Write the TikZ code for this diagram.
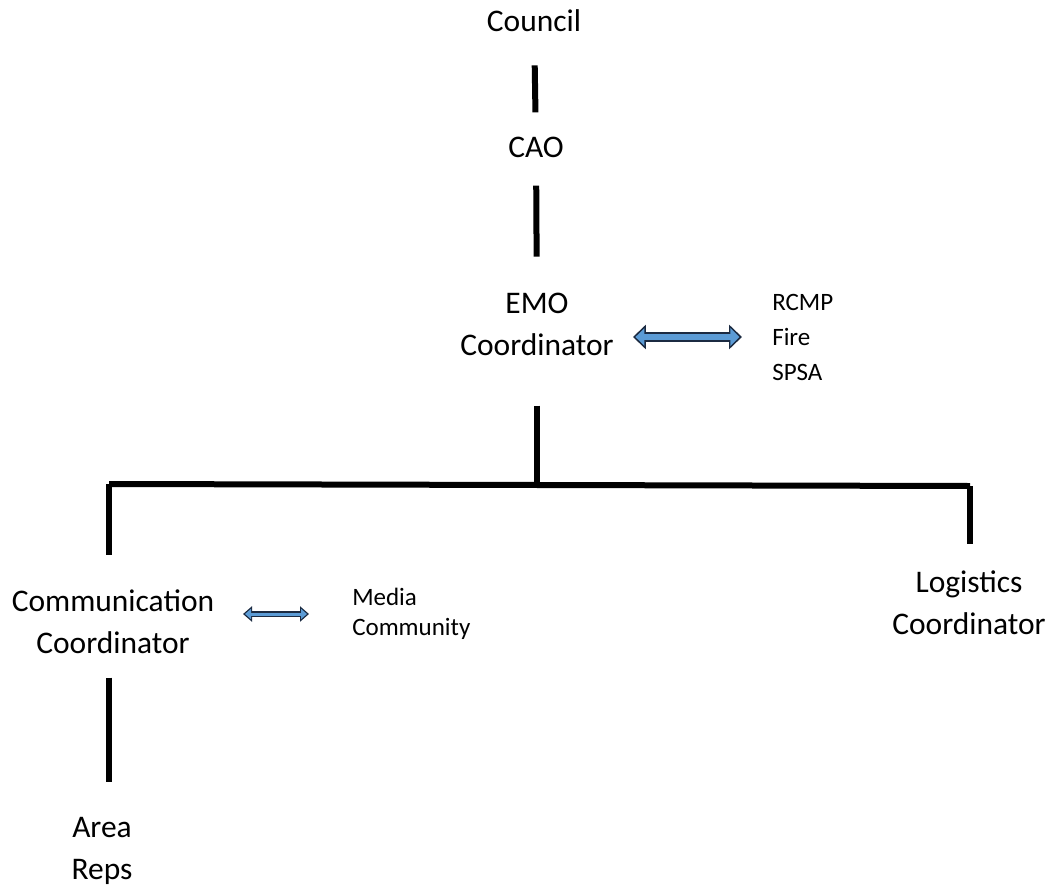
\documentclass[tikz,border=0pt]{standalone}
\usepackage{fontspec}
\setmainfont{Carlito}
\usetikzlibrary{arrows.meta}
\definecolor{arrowblue}{HTML}{5B9BD5}
\definecolor{arrowedge}{HTML}{1B2A41}

\begin{document}
\begin{tikzpicture}[x=0.75pt,y=-0.75pt,
					main node/.style={align=center,inner sep=0pt,font=\fontsize{23.6}{31.5}\selectfont},
					side node/.style={align=left,anchor=west,inner sep=0pt,font=\fontsize{18.75}{26.25}\selectfont},
					tree line/.style={line width=4.5pt,black},
					big link/.style={draw=arrowedge,line width=7.5pt,
						{Triangle[length=9.75pt,width=18pt]}-{Triangle[length=9.75pt,width=18pt]},
						shorten <=14.25pt,shorten >=22.5pt,
						postaction={draw=arrowblue,line width=4.5pt,
							{Triangle[length=6.75pt,width=12.75pt]}-{Triangle[length=6.75pt,width=12.75pt]},
							shorten <=16.1pt,shorten >=24.4pt}},
					small link/.style={draw=arrowedge,line width=4.5pt,
						{Triangle[length=6.75pt,width=11.25pt]}-{Triangle[length=6.75pt,width=11.25pt]},
						shorten <=21.4pt,shorten >=32.25pt,
						postaction={draw=arrowblue,line width=2.25pt,
							{Triangle[length=4.5pt,width=7.5pt]}-{Triangle[length=4.5pt,width=7.5pt]},
							shorten <=22.9pt,shorten >=33.75pt}}]
					\useasboundingbox (0,0) rectangle (1055,895);

					\node[main node] (council) at (534,21) {Council};
					\node[main node] (cao) at (536,147) {CAO};
					\node[main node] (emo) at (537,324) {EMO\\Coordinator};
					\node[side node] (agencies) at (772,337) {RCMP\\Fire\\SPSA};
					\node[main node] (comm) at (113,622) {Communication\\Coordinator};
					\node[side node,font=\fontsize{18.75}{22.5}\selectfont] (media) at (352,614) {Media\\Community};
					\node[main node] (logi) at (969,603) {Logistics\\Coordinator};
					\node[main node] (area) at (102,851) {Area\\Reps};

					\coordinate (hub) at (537,485);
					\coordinate (lefttop) at (109,484);
					\coordinate (righttop) at (970,486);

					% chain of command
					\draw[tree line,shorten <=24.75pt,shorten >=18pt] (council) -- (cao);
					\draw[tree line,shorten <=21pt,shorten >=26.8pt] (cao) -- (emo);
					\draw[tree line,shorten <=37.5pt] (emo) -- (hub);
					\draw[tree line] (lefttop) -- (righttop);
					\draw[tree line,shorten >=26pt] (lefttop) -- (lefttop |- comm.north);
					\draw[tree line,shorten >=20pt] (righttop) -- (righttop |- logi.north);
					\draw[tree line,shorten <=17.6pt,shorten >=26pt] (comm.south -| lefttop) -- (area.north -| lefttop);

					% liaison arrows
					\draw[big link] (emo.east |- agencies.west) -- (agencies.west);
					\draw[small link] (comm.east |- media.west) -- (media.west);
				\end{tikzpicture}
\end{document}
